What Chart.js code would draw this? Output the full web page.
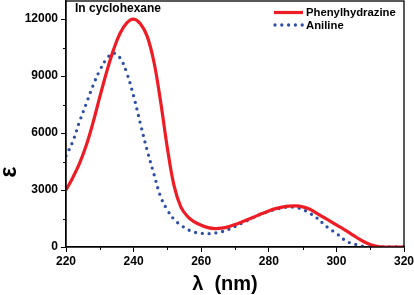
<!DOCTYPE html>
<html>
<head>
<meta charset="utf-8">
<script src="https://cdn.jsdelivr.net/npm/chart.js@4.4.1/dist/chart.umd.min.js"></script>
<style>
  html, body { margin: 0; padding: 0; background: #ffffff; }
  #wrap { width: 414px; height: 295px; position: relative; }
</style>
</head>
<body>
<div id="wrap"><canvas id="c" width="414" height="295"></canvas></div>
<script>
const wavelengths = [220,222,224,226,228,230,232,234,236,238,240,242,244,246,248,250,252,254,256,258,260,262,264,266,268,270,272,274,276,278,280,282,284,286,288,290,292,294,296,298,300,302,304,306,308,310,312,314,316,318,320];
const phenylhydrazine = [3000,3650,4400,5350,6550,7900,9200,10350,11250,11800,12000,11750,11100,9750,7650,5200,3200,2100,1600,1320,1140,1020,970,990,1060,1180,1320,1460,1610,1760,1900,2020,2100,2150,2160,2110,2000,1800,1580,1380,1160,950,730,500,290,130,40,0,0,0,0];
const aniline = [4800,5550,6600,7550,8500,9300,9900,10200,9950,9150,7950,6500,5100,3850,2650,1950,1450,1150,920,780,720,700,730,800,920,1080,1250,1420,1600,1750,1880,1980,2060,2100,2080,1980,1790,1560,1250,950,720,420,220,120,40,0,0,0,0,0,0];
const xTicks = [220,240,260,280,300,320];
const xMinorTicks = [230,250,270,290,310];
const yTicks = [0,3000,6000,9000,12000];
const yMinorTicks = [1500,4500,7500,10500];
const seriesNames = ['Phenylhydrazine','Aniline'];
const annotationText = 'In cyclohexane';
const xTitle = 'λ  (nm)';
const yTitle = 'ε';

const FONT = "'Liberation Sans', Arial, Helvetica, sans-serif";
const RED = '#ee1c25';
const BLUE = '#2f4fa6';

const extras = {
  id: 'extras',
  afterDraw(chart) {
    const ctx = chart.ctx;
    const a = chart.chartArea;
    const xs = chart.scales.x, ys = chart.scales.y;
    ctx.save();
    // frame
    ctx.strokeStyle = '#000';
    ctx.lineWidth = 1.3;
    ctx.strokeRect(a.left, a.top, a.right - a.left, a.bottom - a.top);
    // minor ticks
    ctx.lineWidth = 1;
    ctx.beginPath();
    xMinorTicks.forEach(v => {
      const px = Math.round(xs.getPixelForValue(v)) + 0.5;
      ctx.moveTo(px, a.bottom); ctx.lineTo(px, a.bottom + 3);
    });
    yMinorTicks.forEach(v => {
      const py = Math.round(ys.getPixelForValue(v)) + 0.5;
      ctx.moveTo(a.left, py); ctx.lineTo(a.left - 3, py);
    });
    ctx.stroke();
    // annotation
    ctx.fillStyle = '#000';
    ctx.font = 'bold 12px ' + FONT;
    ctx.textAlign = 'left';
    ctx.textBaseline = 'middle';
    ctx.fillText(annotationText, 75, 9);
    // legend
    const ds = chart.data.datasets;
    const rows = [12.5, 25];
    ctx.font = 'bold 11.3px ' + FONT;
    ds.forEach((d, i) => {
      const y = rows[i];
      ctx.save();
      ctx.strokeStyle = d.borderColor;
      ctx.lineWidth = d.borderWidth;
      ctx.lineCap = d.borderCapStyle || 'butt';
      ctx.setLineDash(d.borderDash || []);
      ctx.beginPath();
      if (d.borderDash && d.borderDash.length) {
        ctx.moveTo(275, y); ctx.lineTo(303, y);
      } else {
        ctx.moveTo(274, y); ctx.lineTo(303, y);
      }
      ctx.stroke();
      ctx.restore();
      ctx.fillStyle = '#000';
      ctx.fillText(d.label, 306, y + 0.5);
    });
    // axis titles
    ctx.font = 'bold 20px ' + FONT;
    ctx.textAlign = 'center';
    ctx.fillText(xTitle, 225, 284);
    ctx.save();
    ctx.translate(10, 172);
    ctx.rotate(-Math.PI / 2);
    ctx.font = 'bold 23px ' + FONT;
    ctx.fillText(yTitle, 0, 0);
    ctx.restore();
    ctx.restore();
  }
};

const toPoints = arr => wavelengths.map((w, i) => ({ x: w, y: arr[i] }));

new Chart(document.getElementById('c'), {
  type: 'line',
  data: {
    datasets: [
      {
        label: seriesNames[0],
        data: toPoints(phenylhydrazine),
        borderColor: RED,
        backgroundColor: RED,
        borderWidth: 3.2,
        pointRadius: 0,
        tension: 0.4,
        fill: false
      },
      {
        label: seriesNames[1],
        data: toPoints(aniline),
        borderColor: BLUE,
        backgroundColor: BLUE,
        borderWidth: 3.3,
        borderDash: [0, 6.8],
        borderCapStyle: 'round',
        pointRadius: 0,
        tension: 0.4,
        fill: false
      }
    ]
  },
  plugins: [extras],
  options: {
    responsive: false,
    animation: false,
    devicePixelRatio: 1,
    layout: { padding: { top: 1, right: 10, left: 0, bottom: 0 } },
    plugins: {
      legend: { display: false },
      tooltip: { enabled: false },
      title: { display: false }
    },
    scales: {
      x: {
        type: 'linear',
        min: 220,
        max: 320,
        afterBuildTicks: s => { s.ticks = xTicks.map(v => ({ value: v })); },
        afterFit: s => { s.height = 48; s.paddingLeft = 0; s.paddingRight = 0; },
        grid: { display: true, drawOnChartArea: false, drawTicks: true, tickLength: 5, color: '#000', tickColor: '#000', lineWidth: 1 },
        border: { display: true, color: '#000', width: 1.3 },
        ticks: {
          color: '#000',
          padding: 2,
          maxRotation: 0,
          callback: v => String(v),
          font: { family: FONT, size: 12, weight: 'bold' }
        }
      },
      y: {
        type: 'linear',
        min: 0,
        max: 12950,
        afterBuildTicks: s => { s.ticks = yTicks.map(v => ({ value: v })); },
        afterFit: s => { s.width = 66; s.paddingTop = 0; s.paddingBottom = 0; },
        grid: { display: true, drawOnChartArea: false, drawTicks: true, tickLength: 5, color: '#000', tickColor: '#000', lineWidth: 1 },
        border: { display: true, color: '#000', width: 1.3 },
        ticks: {
          color: '#000',
          padding: 3,
          callback: v => String(v),
          font: { family: FONT, size: 12, weight: 'bold' }
        }
      }
    }
  }
});
</script>
</body>
</html>
